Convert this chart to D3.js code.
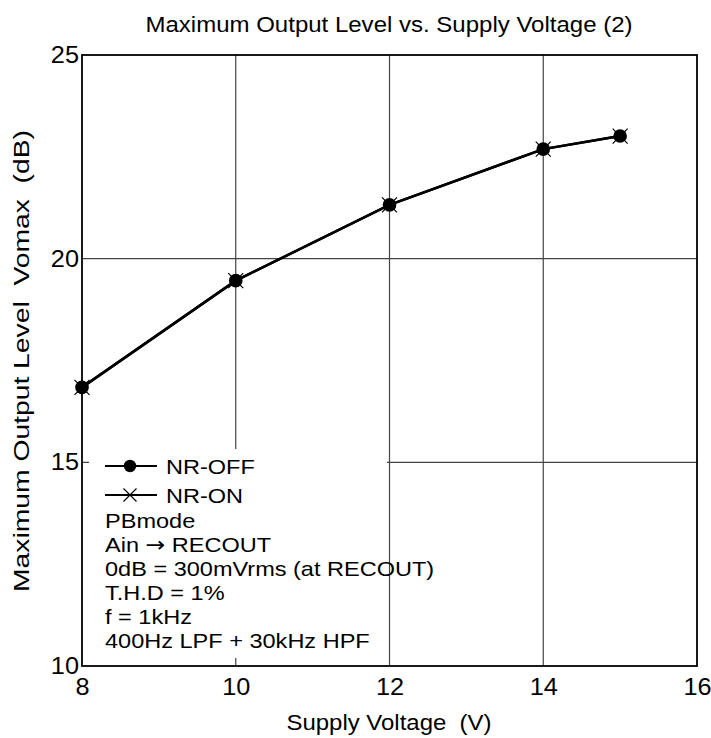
<!DOCTYPE html>
<html><head><meta charset="utf-8">
<script src="https://cdn.jsdelivr.net/npm/d3@7"></script>
<style>body{margin:0;background:#fff;}svg{display:block;font-family:"Liberation Sans",Arial,sans-serif;}text{white-space:pre;}</style>
</head><body>
<svg id="c" width="711" height="738"></svg>
<script>
const voltages = [8, 10, 12, 14, 15];
const nrOff = [16.84, 19.46, 21.32, 22.69, 23.01];
const nrOn  = [16.84, 19.46, 21.32, 22.69, 23.01];
const xTicks = [8, 10, 12, 14, 16];
const yTicks = [10, 15, 20, 25];
const legendNames = ["NR-OFF", "NR-ON"];
const notes = ["PBmode", "Ain \u2192 RECOUT", "0dB = 300mVrms (at RECOUT)", "T.H.D = 1%", "f = 1kHz", "400Hz LPF + 30kHz HPF"];
const title = "Maximum Output Level vs. Supply Voltage (2)";
const xLabel = "Supply Voltage  (V)";
const yLabel = "Maximum Output Level  Vomax  (dB)";

const svg = d3.select("#c");
const L = 82, R = 697, T = 55, B = 666;
const x = d3.scaleLinear().domain([8, 16]).range([L, R]);
const y = d3.scaleLinear().domain([10, 25]).range([B, T]);

function stretch(sel, k) {
  sel.each(function () {
    const w = this.getComputedTextLength();
    d3.select(this).attr("textLength", w * k).attr("lengthAdjust", "spacingAndGlyphs");
  });
}

// grid
const g = svg.append("g");
g.selectAll("line.vx").data(xTicks.slice(1, -1)).join("line")
  .attr("x1", d => x(d)).attr("x2", d => x(d)).attr("y1", T).attr("y2", B)
  .attr("stroke", "#444").attr("stroke-width", 1.2);
g.selectAll("line.hy").data(yTicks.slice(1, -1)).join("line")
  .attr("x1", L).attr("x2", R).attr("y1", d => y(d)).attr("y2", d => y(d))
  .attr("stroke", "#444").attr("stroke-width", 1.2);

// legend mask
svg.append("rect").attr("x", 89).attr("y", 449).attr("width", 298).attr("height", 209).attr("fill", "#fff");

// frame
svg.append("rect").attr("x", L).attr("y", T).attr("width", R - L).attr("height", B - T)
  .attr("fill", "none").attr("stroke", "#000").attr("stroke-width", 1.8);

// axes labels
const xa = d3.axisBottom(x).tickValues(xTicks).tickSize(0).tickPadding(13).tickFormat(d3.format("d"));
const xg = svg.append("g").attr("transform", `translate(0,${B})`).call(xa);
xg.select(".domain").remove();
xg.selectAll("text").attr("font-size", 23).attr("fill", "#000").attr("font-family", "Liberation Sans, Arial, sans-serif").call(stretch, 1.1);
const ya = d3.axisLeft(y).tickValues(yTicks).tickSize(0).tickPadding(3).tickFormat(d3.format("d"));
const yg = svg.append("g").attr("transform", `translate(${L},0)`).call(ya);
yg.select(".domain").remove();
yg.selectAll("text").attr("font-size", 23).attr("fill", "#000").attr("font-family", "Liberation Sans, Arial, sans-serif").call(stretch, 1.1);

// data
const line = d3.line().x((d, i) => x(voltages[i])).y(d => y(d));
svg.append("path").datum(nrOn).attr("d", line).attr("fill", "none").attr("stroke", "#000").attr("stroke-width", 2.5);
svg.append("path").datum(nrOff).attr("d", line).attr("fill", "none").attr("stroke", "#000").attr("stroke-width", 2.5);
const cross = (sel, cx, cy, s) => {
  sel.append("path").attr("d", `M${cx - s},${cy - s}L${cx + s},${cy + s}M${cx - s},${cy + s}L${cx + s},${cy - s}`)
    .attr("stroke", "#000").attr("stroke-width", 1.2);
};
nrOn.forEach((d, i) => cross(svg, x(voltages[i]), y(d), 7.5));
svg.selectAll("circle.off").data(nrOff).join("circle")
  .attr("cx", (d, i) => x(voltages[i])).attr("cy", d => y(d)).attr("r", 6.8).attr("fill", "#000");

// legend
const ly = [466, 495];
legendNames.forEach((n, i) => {
  svg.append("line").attr("x1", 105).attr("x2", 157).attr("y1", ly[i]).attr("y2", ly[i]).attr("stroke", "#000").attr("stroke-width", 2.2);
  if (i === 0) svg.append("circle").attr("cx", 130).attr("cy", ly[i]).attr("r", 6.2).attr("fill", "#000");
  else cross(svg, 130, ly[i], 6.5);
  svg.append("text").attr("x", 166).attr("y", ly[i] + 8).attr("font-size", 21).text(n).call(stretch, 1.12);
});
notes.forEach((t, i) => {
  const tx = svg.append("text").attr("x", 105).attr("y", 528 + i * 24).attr("font-size", 21);
  const parts = t.split("\u2192");
  if (parts.length > 1) {
    tx.append("tspan").text(parts[0]);
    tx.append("tspan").attr("font-family", "DejaVu Sans").attr("font-size", 21).text("\u2192");
    tx.append("tspan").text(parts[1]);
  } else tx.text(t);
  tx.call(stretch, 1.12);
});

// titles
svg.append("text").attr("x", 389).attr("y", 32).attr("text-anchor", "middle").attr("font-size", 22)
  .attr("textLength", 487).attr("lengthAdjust", "spacingAndGlyphs").text(title);
svg.append("text").attr("x", 389).attr("y", 730).attr("text-anchor", "middle").attr("font-size", 22)
  .attr("textLength", 205).attr("lengthAdjust", "spacingAndGlyphs").text(xLabel);
svg.append("text").attr("transform", "translate(29,361) rotate(-90)").attr("text-anchor", "middle").attr("font-size", 22)
  .attr("textLength", 462).attr("lengthAdjust", "spacingAndGlyphs").text(yLabel);
</script>
</body></html>
